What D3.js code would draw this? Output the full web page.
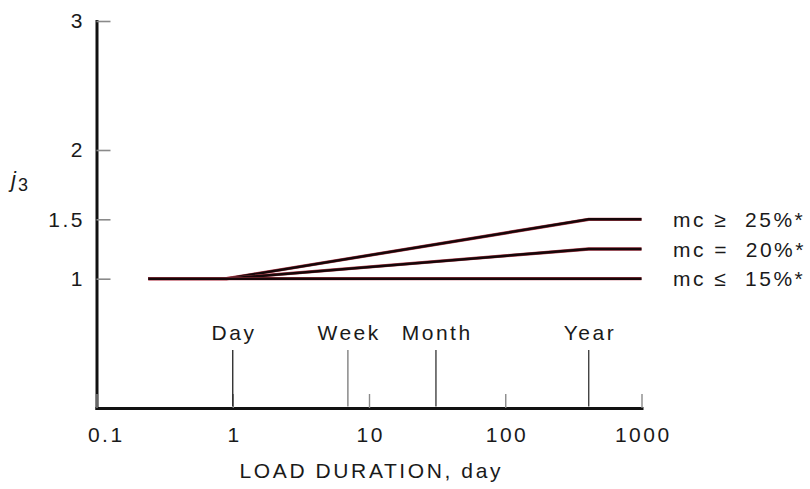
<!DOCTYPE html>
<html>
<head>
<meta charset="utf-8">
<script src="https://cdn.jsdelivr.net/npm/d3@7"></script>
<style>
  html, body { margin: 0; padding: 0; background: #fff; }
  svg { display: block; font-family: "Liberation Sans", Arial, sans-serif; }
  text { fill: #1a1a1a; }
</style>
</head>
<body>
<svg id="chart" width="810" height="489"></svg>
<script>
// Load duration (days) at the break points of each curve
const durations = [0.24, 0.9, 410, 1000];

// Adjustment factor j3 for each moisture-content class
const seriesNames = ["mc \u2265  25%*", "mc =  20%*", "mc \u2264  15%*"];
const seriesValues = [
  [1, 1, 1.5, 1.5],
  [1, 1, 1.25, 1.25],
  [1, 1, 1, 1]
];

// Axis ticks
const xTicks = [0.1, 1, 10, 100, 1000];
const xTickLabels = ["0.1", "1", "10", "100", "1000"];
const yTicks = [1, 1.5, 2, 3];
const yTickLabels = ["1", "1.5", "2", "3"];

// Reference durations marked above the axis
const eventLabels = ["Day", "Week", "Month", "Year"];
const eventDays = [1, 7, 31, 410];

const svg = d3.select("#chart");

const x = d3.scaleLog().domain([0.1, 1000]).range([96.5, 641.5]);
// piecewise linear j3 scale
const y = d3.scaleLinear().domain([0, 1, 1.5, 2, 3]).range([408, 278.7, 219.3, 150, 21]);

const fontSize = 21;
const letterSp = 2.5;

// y axis
const yAxis = d3.axisLeft(y)
  .tickValues(yTicks)
  .tickFormat((d, i) => yTickLabels[i])
  .tickSizeInner(-14)
  .tickSizeOuter(0)
  .tickPadding(14);
const gy = svg.append("g").attr("transform", `translate(${x(0.1)},0)`).call(yAxis);
gy.select(".domain").attr("stroke", "#111").attr("stroke-width", 3).attr("stroke-linecap", "square");
gy.selectAll(".tick line").attr("stroke", "#8a8a8a").attr("stroke-width", 1.6);
gy.selectAll(".tick text")
  .attr("font-size", fontSize).attr("font-family", "Liberation Sans, Arial, sans-serif")
  .attr("fill", "#1a1a1a").attr("letter-spacing", letterSp)
  .attr("dx", letterSp);

// x axis
const xAxis = d3.axisBottom(x)
  .tickValues(xTicks)
  .tickFormat((d, i) => xTickLabels[i])
  .tickSizeInner(-14)
  .tickSizeOuter(0)
  .tickPadding(19);
const gx = svg.append("g").attr("transform", `translate(0,${y(0)})`).call(xAxis);
gx.select(".domain").attr("stroke", "#111").attr("stroke-width", 3).attr("stroke-linecap", "square");
gx.selectAll(".tick line").attr("stroke", "#8a8a8a").attr("stroke-width", 1.4);
gx.selectAll(".tick text")
  .attr("font-size", fontSize).attr("font-family", "Liberation Sans, Arial, sans-serif")
  .attr("fill", "#1a1a1a").attr("letter-spacing", letterSp)
  .attr("dx", (d, i) => letterSp / 2 + (i === 0 ? 8 : 0));

// reference duration markers
const markerTop = 350;
const markerColors = ["#222", "#777", "#333", "#333"];
const ev = svg.append("g");
eventDays.forEach((d, i) => {
  ev.append("line")
    .attr("x1", x(d)).attr("x2", x(d))
    .attr("y1", markerTop).attr("y2", y(0) - 1.5)
    .attr("stroke", markerColors[i]).attr("stroke-width", 1.3);
  ev.append("text")
    .attr("x", x(d) + letterSp / 2).attr("y", 340)
    .attr("text-anchor", "middle")
    .attr("font-size", fontSize).attr("letter-spacing", letterSp)
    .text(eventLabels[i]);
});

// j3 curves
const line = d3.line().x((d, i) => x(durations[i])).y(d => y(d));
const curves = svg.append("g").attr("fill", "none");
seriesValues.forEach(vals => {
  curves.append("path").attr("d", line(vals))
    .attr("stroke", "#b4404f").attr("stroke-width", 3.3);
  curves.append("path").attr("d", line(vals))
    .attr("stroke", "#160709").attr("stroke-width", 2.5);
});

// series labels at the right end
seriesValues.forEach((vals, i) => {
  svg.append("text")
    .attr("x", 673).attr("y", y(vals[vals.length - 1]) + 7.5)
    .attr("font-size", fontSize).attr("letter-spacing", 2.5)
    .style("white-space", "pre")
    .text(seriesNames[i]);
});

// y axis title: j with subscript 3
const yt = svg.append("text").attr("x", 11).attr("y", 187);
yt.append("tspan").attr("font-style", "italic").attr("font-size", 22).text("j");
yt.append("tspan").attr("font-size", 18).attr("dx", 2).attr("dy", 4).text("3");

// x axis title
svg.append("text")
  .attr("x", 370 + 1.3).attr("y", 478)
  .attr("text-anchor", "middle")
  .attr("font-size", fontSize).attr("letter-spacing", 2.6)
  .text("LOAD DURATION, day");
</script>
</body>
</html>
